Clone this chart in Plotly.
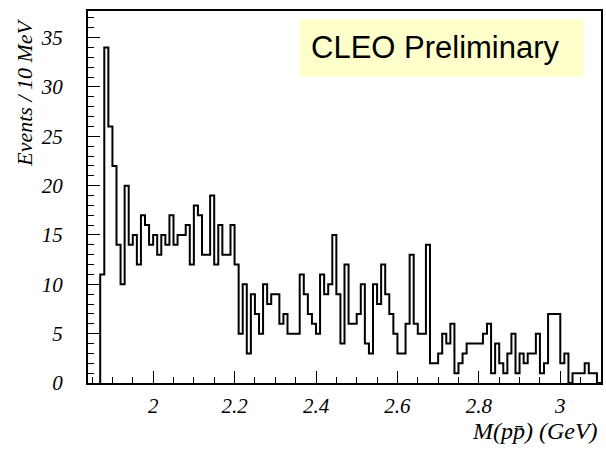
import plotly.graph_objects as go

# Proton-antiproton invariant mass spectrum, 10 MeV bins starting at 1.87 GeV
bin_start = 1.87
bin_width = 0.01
events = [
    11, 34, 26, 22, 14, 10, 20, 14, 15, 12,
    17, 16, 14, 15, 13, 15, 14, 17, 14, 15,
    15, 16, 12, 18, 17, 13, 13, 19, 12, 16,
    13, 13, 16, 12, 5, 10, 3, 9, 7, 5,
    10, 8, 9, 9, 6, 7, 5, 5, 5, 11,
    9, 7, 6, 5, 11, 9, 10, 15, 9, 4,
    12, 6, 6, 7, 10, 4, 3, 10, 8, 12,
    9, 7, 5, 3, 3, 6, 13, 6, 5, 5,
    14, 2, 2, 3, 5, 4, 6, 1, 2, 3,
    4, 4, 4, 4, 5, 6, 1, 4, 2, 1,
    3, 5, 1, 3, 2, 3, 3, 5, 1, 2,
    7, 7, 7, 2, 3, 0, 1, 1, 1, 2,
    1, 1, 0,
]

x_ticks = [2.0, 2.2, 2.4, 2.6, 2.8, 3.0]
x_tick_labels = ["2", "2.2", "2.4", "2.6", "2.8", "3"]
y_ticks = [0, 5, 10, 15, 20, 25, 30, 35]
y_tick_labels = ["0", "5", "10", "15", "20", "25", "30", "35"]

edges = [round(bin_start + i * bin_width, 4) for i in range(len(events) + 1)]
step_x = [edges[0]] + edges
step_y = [0] + events + [0]

serif = "Liberation Serif"

fig = go.Figure()
fig.add_trace(go.Scatter(
    x=step_x, y=step_y, mode="lines", line_shape="hv",
    line=dict(color="black", width=2), hoverinfo="skip", showlegend=False,
))

axis_common = dict(
    showline=True, mirror=True, linecolor="black", linewidth=2,
    showgrid=False, zeroline=False, ticks="inside", tickcolor="black",
    tickwidth=1, ticklen=12,
    tickfont=dict(family=serif, size=21, color="black"),
)

fig.update_layout(
    width=606, height=450,
    margin=dict(l=88, r=3, t=11, b=67),
    paper_bgcolor="white", plot_bgcolor="white",
    xaxis=dict(
        range=[1.84, 3.10], tickvals=x_ticks,
        ticktext=[f"<i>{t}</i>" for t in x_tick_labels],
        minor=dict(dtick=0.05, tick0=2.0, ticks="inside", ticklen=6,
                   tickcolor="black", tickwidth=1),
        ticklabelstandoff=3,
        **axis_common,
    ),
    yaxis=dict(
        range=[0, 37.7], tickvals=y_ticks,
        ticktext=[f"<i>{t}</i>" for t in y_tick_labels],
        minor=dict(dtick=1, tick0=0, ticks="inside", ticklen=6,
                   tickcolor="black", tickwidth=1),
        ticklabelstandoff=19,
        **axis_common,
    ),
    shapes=[dict(
        type="rect", xref="paper", yref="paper",
        x0=0.412, x1=0.967, y0=0.823, y1=0.978,
        fillcolor="#ffffcc", line=dict(width=0), layer="above",
    )],
    annotations=[
        dict(text="CLEO Preliminary", xref="paper", yref="paper",
             x=0.678, y=0.903, xanchor="center", yanchor="middle",
             showarrow=False,
             font=dict(family="Liberation Sans", size=31, color="black")),
        dict(text="<i>Events / 10 MeV</i>", xref="paper", yref="paper",
             x=-0.123, y=0.78, xanchor="center", yanchor="middle",
             textangle=-90, showarrow=False,
             font=dict(family=serif, size=22, color="black")),
        dict(text="<i>M(pp\u0304) (GeV)</i>", xref="paper", yref="paper",
             x=0.999, y=-0.13, xanchor="right", yanchor="middle",
             showarrow=False,
             font=dict(family=serif, size=24, color="black")),
    ],
)

fig.write_html("out.html")
